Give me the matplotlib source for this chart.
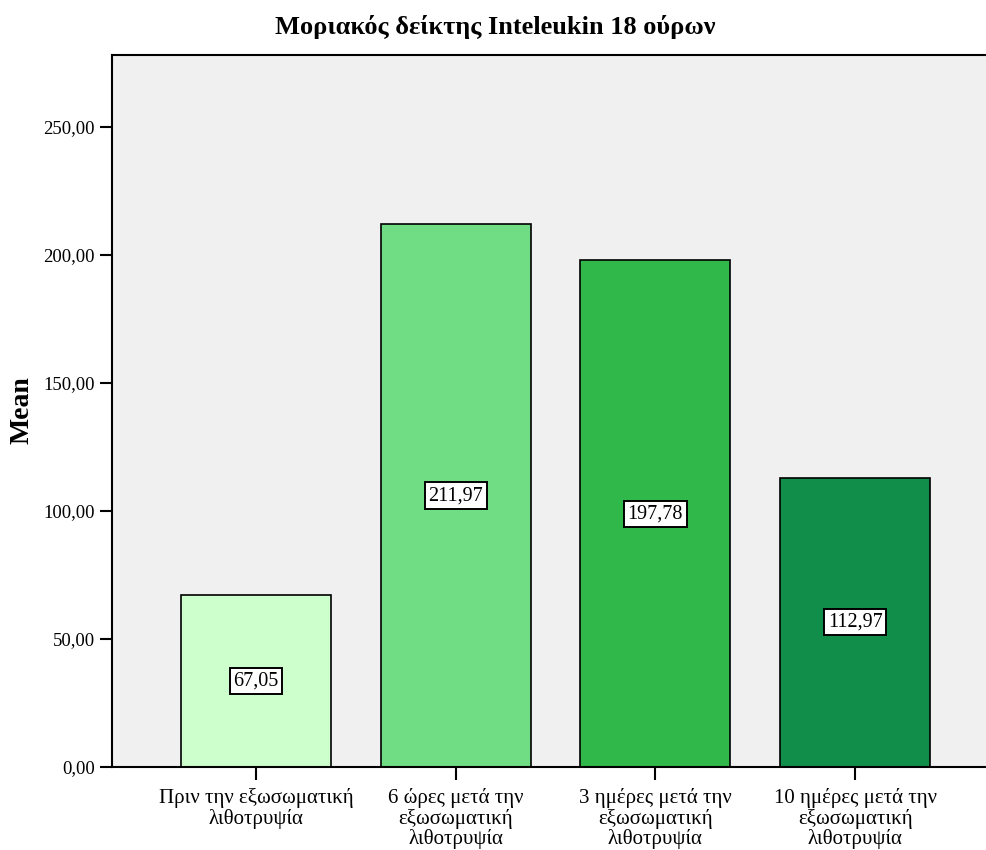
import numpy as np
import matplotlib.pyplot as plt

categories = ["Πριν την εξωσωματική\nλιθοτρυψία",
              "6 ώρες μετά την\nεξωσωματική\nλιθοτρυψία",
              "3 ημέρες μετά την\nεξωσωματική\nλιθοτρυψία",
              "10 ημέρες μετά την\nεξωσωματική\nλιθοτρυψία"]
means = [67.05, 211.97, 197.78, 112.97]
colors = ['#CCFFCC', '#70DD85', '#30B84A', '#108E4A']
yticks = [0, 50, 100, 150, 200, 250]

plt.rcParams['font.family'] = ['Liberation Serif', 'DejaVu Serif']

fig = plt.figure(figsize=(9.87, 8.5), dpi=100)
# axes extends slightly past the right edge like in the original
ax = fig.add_axes([112/987, (850-767)/850, (999-112)/987, (767-55)/850])
ax.set_facecolor('#F0F0F0')

ind = np.arange(len(means))
ax.bar(ind, means, 0.75, color=colors, edgecolor='black', linewidth=1.2, zorder=2)
for i, m in zip(ind, means):
    ax.text(i, m/2, ('%.2f' % m).replace('.', ','), ha='center', va='center', fontsize=14.5,
            bbox=dict(boxstyle='square,pad=0.18', fc='white', ec='black', lw=1.4), zorder=3)

ax.set_xlim(-0.72, 3.72)
ax.set_ylim(0, 278)
ax.set_yticks(yticks)
ax.set_yticklabels([('%.2f' % v).replace('.', ',') for v in yticks], fontsize=13.5)
ax.set_xticks(ind)
ax.set_xticklabels(categories, fontsize=15, linespacing=1.05)
ax.tick_params(direction='out', length=9, width=1.5)
ax.tick_params(axis='x', pad=6)
for s in ax.spines.values():
    s.set_linewidth(1.5)
fig.text(22/987, 1 - 410/850, "Mean", rotation=90, ha='center', va='center',
         fontsize=20, fontweight='bold')
fig.text(495/987, 1 - 27/850, "Μοριακός δείκτης Inteleukin 18 ούρων", ha='center', va='center',
         fontsize=19, fontweight='bold')

plt.savefig('out.png', dpi=100)
